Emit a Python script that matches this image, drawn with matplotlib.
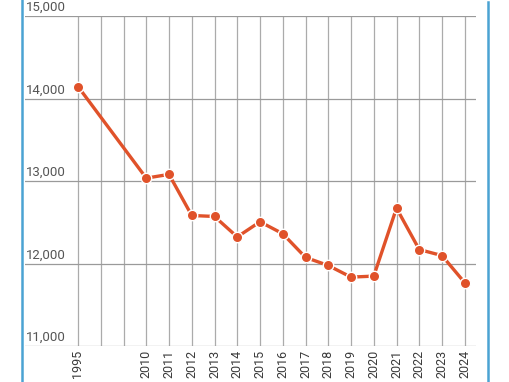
import numpy as np
import matplotlib
matplotlib.use('Agg')
import matplotlib.pyplot as plt
from matplotlib.lines import Line2D

# categorie sull'asse x (due posizioni vuote tra 1995 e 2010)
anni = ['1995', '', '', '2010', '2011', '2012', '2013', '2014', '2015', '2016',
        '2017', '2018', '2019', '2020', '2021', '2022', '2023', '2024']
valori = [14145, np.nan, np.nan, 13035, 13080, 12582, 12570, 12322, 12506, 12361,
          12074, 11976, 11835, 11847, 12671, 12169, 12096, 11767]
tick_y = [11000, 12000, 13000, 14000, 15000]

plt.rcParams['font.family'] = ['Roboto', 'DejaVu Sans']

fig = plt.figure(figsize=(5.1, 3.82), dpi=100)
ax = fig.add_axes([25/510, 1 - 346/382, (476 - 25)/510, (346 - 16)/382])

x = np.arange(len(anni))
y = np.array(valori, dtype=float)
ok = ~np.isnan(y)

ax.set_xlim((25 - 78) / 22.75, (476 - 78) / 22.75)
ax.set_ylim(11000, 15000)

# griglia
for xi in x:
    ax.axvline(xi, color='#ababab', lw=0.9, zorder=1)
for t in tick_y:
    ax.axhline(t, color='#9a9a9a', lw=0.9, zorder=1)
    ax.text(0.003, t + 22, f'{t:,}', transform=ax.get_yaxis_transform(),
            ha='left', va='bottom', fontsize=9.5, color='#555555')

ax.plot(x[ok], y[ok], color='#e0522a', lw=2.4, zorder=3,
        marker='o', markersize=7.5, markerfacecolor='#e0522a',
        markeredgecolor='white', markeredgewidth=1.0)

ax.set_xticks(x)
ax.set_xticklabels(anni, rotation=90, fontsize=9, color='#3a3a3a')
ax.tick_params(axis='x', length=0, pad=3)
ax.set_yticks([])
for s in ax.spines.values():
    s.set_visible(False)

# bordo azzurro del riquadro
fig.add_artist(Line2D([22/510, 22/510], [0, 1.0], color='#4aa3d3', lw=1.8))
fig.add_artist(Line2D([488/510, 488/510], [0, 0.995], color='#4aa3d3', lw=1.8))

fig.savefig('out.png', dpi=100)
